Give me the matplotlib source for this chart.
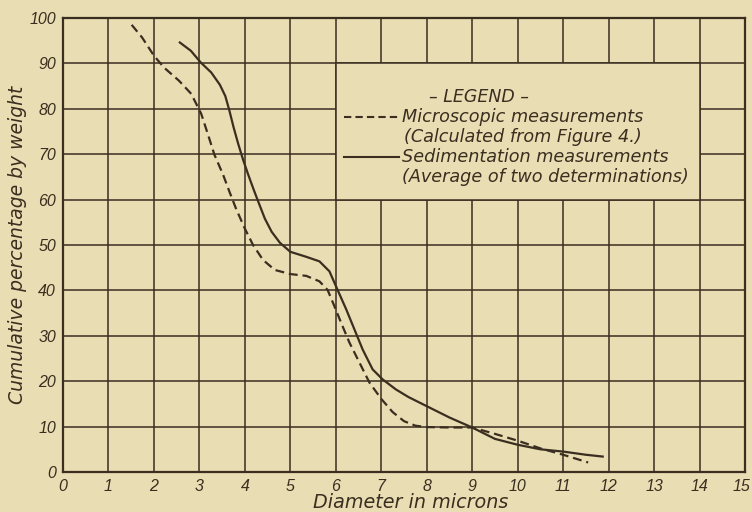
import matplotlib
matplotlib.use("Agg")
import matplotlib.pyplot as plt
import matplotlib.transforms as mtransforms
from matplotlib.patches import Rectangle

micro_x = [1.51, 1.74, 2.0, 2.22, 2.55, 2.82, 3.04, 3.18, 3.33, 3.52, 3.67,
           3.81, 4.0, 4.18, 4.40, 4.66, 5.0, 5.35, 5.64, 5.82, 5.97, 6.12,
           6.30, 6.52, 6.74, 7.0, 7.25, 7.5, 7.75, 8.0, 8.5, 9.0, 9.5, 10.0,
           10.5, 11.0, 11.55]
micro_y = [98.5, 95.7, 91.7, 89.1, 86.2, 83.3, 78.9, 74.6, 69.9, 65.5, 61.5,
           57.9, 53.6, 50.0, 46.7, 44.5, 43.6, 43.2, 42.0, 40.1, 36.5, 32.8,
           28.5, 24.1, 19.7, 16.1, 13.2, 11.2, 10.2, 9.9, 9.8, 9.8, 8.4, 6.9,
           5.2, 3.8, 2.1]

# Sedimentation measurements (solid)
sed_x = [2.57, 2.81, 3.03, 3.26, 3.45, 3.57, 3.66, 3.75, 3.85, 3.96, 4.07,
         4.19, 4.30, 4.44, 4.59, 4.77, 5.0, 5.35, 5.64, 5.86, 6.04, 6.23,
         6.41, 6.59, 6.81, 7.03, 7.32, 7.6, 8.0, 8.5, 9.0, 9.5, 10.0, 10.5,
         11.0, 11.5, 11.87]
sed_y = [94.6, 92.8, 90.2, 88.0, 85.3, 82.8, 79.6, 76.0, 72.4, 68.8, 65.6,
         62.3, 59.4, 55.8, 52.9, 50.5, 48.5, 47.4, 46.4, 44.2, 40.1, 35.8,
         31.4, 27.0, 22.6, 20.4, 18.2, 16.5, 14.5, 12.0, 9.8, 7.3, 6.0, 5.0,
         4.5, 3.8, 3.4]

x_ticks = list(range(0, 16))
y_ticks = list(range(0, 101, 10))

legend_title = "– LEGEND –"
legend_lines = ["Microscopic measurements", "(Calculated from Figure 4.)",
                "Sedimentation measurements", "(Average of two determinations)"]

bg = "#E9DDB3"
ink = "#3A2E20"
tickfont = dict(family="Liberation Sans", style="italic", color=ink)
font = dict(family="DejaVu Sans", style="italic", color=ink)

fig = plt.figure(figsize=(7.52, 5.12), dpi=100, facecolor=bg)
ax = fig.add_axes([63 / 752, 40 / 512, 682 / 752, 454 / 512])
ax.set_facecolor(bg)

ax.set_xlim(0, 15)
ax.set_ylim(0, 100)
ax.set_xticks(x_ticks)
ax.set_yticks(y_ticks)
ax.set_xticklabels([str(v) for v in x_ticks], **tickfont, fontsize=11.5)
ax.set_yticklabels([str(v) for v in y_ticks], **tickfont, fontsize=11.5)
ax.tick_params(length=0, pad=5)
last = ax.get_xticklabels()[-1]
last.set_ha("right")
last.set_transform(last.get_transform() +
                   mtransforms.ScaledTranslation(5 / 100, 0, fig.dpi_scale_trans))
ax.set_axisbelow(True)
ax.grid(True, color=ink, lw=1.1)
for s in ax.spines.values():
    s.set_color(ink)
    s.set_linewidth(1.6)

# blank area for the legend, edged by grid lines
ax.add_patch(Rectangle((6, 60), 8, 30, facecolor=bg, edgecolor=ink, lw=1.1, zorder=1))

ax.plot(micro_x, micro_y, color=ink, lw=1.6, ls=(0, (4, 2.2)), zorder=3)
ax.plot(sed_x, sed_y, color=ink, lw=1.6, zorder=3)

# legend
ax.text(9.16, 82.6, legend_title, ha="center", va="center", fontsize=12.5, **font)
ax.plot([6.18, 7.38], [78.2, 78.2], color=ink, lw=1.5, ls=(0, (3.5, 2)))
ax.plot([6.18, 7.38], [69.4, 69.4], color=ink, lw=1.5)
for (tx, ty), s in zip([(7.45, 78.2), (7.5, 73.8), (7.45, 69.4), (7.45, 65.0)], legend_lines):
    ax.text(tx, ty, s, ha="left", va="center", fontsize=12.7, **font)

fig.text(411 / 752, 1 - 503 / 512, "Diameter in microns", ha="center", va="center",
         fontsize=13.8, **font)
fig.text(18 / 752, 1 - 245 / 512, "Cumulative percentage by weight", ha="center",
         va="center", rotation=90, fontsize=13.5, **font)

fig.savefig("out.png", dpi=100, facecolor=bg)
